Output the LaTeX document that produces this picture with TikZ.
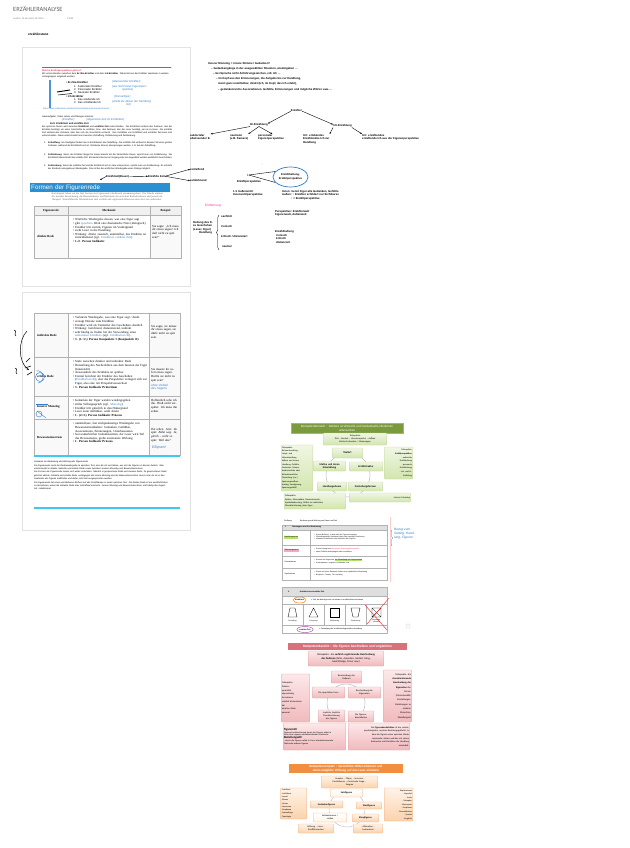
\documentclass[tikz,border=0pt]{standalone}
\usepackage{fontspec}
\setmainfont{Liberation Sans}
\newfontfamily\calfont{Carlito}
\newfontfamily\serfont{Liberation Serif}
\newfontfamily\symfont{DejaVu Sans}
\usetikzlibrary{arrows.meta,positioning,shapes,fit,calc,decorations.pathreplacing}

\definecolor{inkblue}{HTML}{2F7FD0}
\definecolor{banner}{HTML}{2B8FD1}
\definecolor{redline}{HTML}{E33D5A}
\definecolor{cyanline}{HTML}{3FC8F2}
\definecolor{pinktext}{HTML}{F0388A}
\definecolor{oliveT}{HTML}{7A9A3C}
\definecolor{greenL}{HTML}{F0F6E4}
\definecolor{greenD}{HTML}{D3E6AE}
\definecolor{greenB}{HTML}{C4D79B}
\definecolor{redT}{HTML}{D9717A}
\definecolor{pinkL}{HTML}{FCE8E9}
\definecolor{pinkD}{HTML}{F1B9BD}
\definecolor{pinkB}{HTML}{E59EA3}
\definecolor{orangeT}{HTML}{F28E3F}
\definecolor{orL}{HTML}{FFF3E8}
\definecolor{orD}{HTML}{FBD2AC}
\definecolor{orB}{HTML}{F2B37C}
\definecolor{hlgreen}{HTML}{B5E36A}
\definecolor{hlpink}{HTML}{F7A8C4}

\newcommand{\hlg}[1]{{\setlength{\fboxsep}{0.2pt}\colorbox{hlgreen}{#1}}}
\newenvironment{blist}{\begin{list}{\textbullet}{%
  \setlength{\leftmargin}{4pt}\setlength{\labelwidth}{2.6pt}%
  \setlength{\labelsep}{1.2pt}\setlength{\itemsep}{0pt}%
  \setlength{\parsep}{0pt}\setlength{\topsep}{0pt}\setlength{\partopsep}{0pt}}}%
  {\end{list}}

\begin{document}
\begin{tikzpicture}[
  x=1pt, y=-1pt,
  font=\fontsize{2.4}{3}\selectfont,
  txt/.style={anchor=north west, inner sep=0pt, align=left},
  hand/.style={txt, text=inkblue, font=\fontsize{2.8}{3.4}\selectfont\itshape},
  scrib/.style={txt, font=\fontsize{2.8}{3.5}\selectfont\bfseries},
  page/.style={draw=gray!22, fill=white},
  grid/.style={draw=gray!60, line width=0.3pt},
  tcell/.style={txt, font=\serfont\fontsize{3.1}{3.6}\selectfont},
  tree/.style={-{Stealth[length=2pt,width=1.6pt]}, line width=0.4pt},
  kbox/.style={align=center, inner sep=0.8pt, rounded corners=0.8pt, font=\calfont\fontsize{2.3}{2.8}\selectfont},
  gbox/.style={kbox, draw=greenB, line width=0.3pt, top color=greenL, bottom color=greenD},
  rbox/.style={kbox, draw=pinkB, line width=0.3pt, top color=pinkL, bottom color=pinkD},
  obox/.style={kbox, draw=orB, line width=0.3pt, top color=orL, bottom color=orD},
  ktitle/.style={kbox, text=white, rounded corners=0pt, font=\calfont\fontsize{3.2}{3.8}\selectfont}
]
\fill[white] (0,0) rectangle (629,848);
\useasboundingbox (0,0) rectangle (629,848);

% Page header
\node[txt, font=\calfont\fontsize{6.4}{7}\selectfont, text=gray!75!black] (title) at (13,6) {ERZÄHLERANALYSE};
\node[txt, font=\calfont\fontsize{2.6}{3}\selectfont, text=gray] (date) at (13,17.5) {martes, 16 de enero de 2024};
\node[txt, font=\calfont\fontsize{2.6}{3}\selectfont, text=gray] (time) at (67,17.5) {13:00};
\node[txt, font=\fontsize{3.2}{4}\selectfont\bfseries] (instanz) at (28,33) {erzählinstanz};

% Printed pages
\draw[page] (22,47) rectangle (190,286);
\draw[page] (22,292) rectangle (190,530);

% Page 1: Erzählperspektiven
\draw[redline, line width=1pt] (42,68) -- (171,68);
\node[txt, text=redline, font=\fontsize{2.3}{3}\selectfont\bfseries] (frage) at (42,70) {Welche Erzählperspektiven gibt es?};
\node[txt, text width=128pt, font=\fontsize{2.3}{2.9}\selectfont] (intro) at (42,73) {Wir unterscheiden zwischen dem \textbf{Er-/Sie-Erzähler} und dem \textbf{Ich-Erzähler}. Dabei können die Erzähler wiederum in weitere Untergruppen eingeteilt werden:};
\fill[inkblue!85] (49,80) rectangle (51,108);
\node[txt, font=\fontsize{2.7}{3.3}\selectfont] (ersie) at (66,81.5) {\textbullet\ \textbf{Er-/Sie-Erzähler}};
\node[txt, font=\fontsize{2.7}{3.3}\selectfont] (liste1) at (74,85) {1.\ \ Auktorialer Erzähler\\2.\ \ Personaler Erzähler\\3.\ \ Neutraler Erzähler};
\node[txt, font=\fontsize{2.7}{3.3}\selectfont] (icherz) at (66,95) {\textbullet\ \textbf{Ich-Erzähler}};
\node[txt, font=\fontsize{2.7}{3.3}\selectfont] (liste2) at (74,98.5) {1.\ \ Das erlebende Ich\\2.\ \ Das erzählende Ich};
\draw[line width=0.9pt] (57,92) -- (70,90);
\draw[line width=0.5pt] (58,95) -- (72,93.5);
\node[hand] (hn1) at (112,80) {(allwissender Erzähler)};
\node[hand] (hn2) at (112,85) {(aus Sicht einer Figurenper-\\\hspace*{10pt}spektive)};
\node[hand] (hn3) at (114,95.5) {(Romanfigur)};
\node[hand] (hn4) at (112,100) {(erlebt als Akteur der Handlung\\\hspace*{14pt}mit)};
\node[txt, text=inkblue, font=\fontsize{2.2}{2.8}\selectfont] (link) at (43,108) {https://www.studienkreis.de/deutsch/erzaehlperspektive-bestimmen/};
\node[txt, font=\fontsize{2.3}{2.9}\selectfont] (hausaufg) at (42,115.5) {Hausaufgabe: Video sehen und Übungen machen};
\node[hand] (hn5) at (62,118.5) {(Erzähler)\hspace{12pt}(allgemeine Zeit im Erzähltext)};
\node[txt, font=\fontsize{2.5}{3}\selectfont\bfseries] (zeit) at (50,122.5) {Zeit: Erzählzeit und erzählte Zeit};
\node[txt, text width=130pt, align=justify, font=\fontsize{2.25}{2.75}\selectfont] (zeittext) at (42,126) {Bei epischen Texten wird zwischen \textbf{Erzählzeit} und \textbf{erzählter Zeit} unterschieden. Die Erzählzeit umfasst den Zeitraum, den der Erzähler benötigt, um seine Geschichte zu erzählen, bzw. den Zeitraum, den der Leser benötigt, um sie zu lesen. Die erzählte Zeit umfasst den Zeitraum, über den sich die Geschichte erstreckt. Das Verhältnis von Erzählzeit und erzählter Zeit kann sich unterscheiden. Dabei unterscheidet man zwischen Zeitraffung, Zeitdehnung und Zeitdeckung.};
\node[txt, font=\fontsize{2.25}{2.75}\selectfont] (nr1) at (44,142) {1.};
\node[txt, text width=124pt, align=justify, font=\fontsize{2.25}{2.75}\selectfont] (raff) at (48,142) {\textbf{Zeitraffung}: Am häufigsten findet man in Erzähltexten die Zeitraffung. Die erzählte Zeit umfasst in diesem Fall einen großen Zeitraum, während die Erzählzeit kurz ist. Zeiträume können übersprungen werden, z.\,B. bei der Zeitraffung.};
\node[txt, font=\fontsize{2.25}{2.75}\selectfont] (nr2) at (44,153.5) {2.};
\node[txt, text width=124pt, align=justify, font=\fontsize{2.25}{2.75}\selectfont] (dehn) at (48,153.5) {\textbf{Zeitdehnung}: Wenn der Erzähler länger für etwas braucht als die tatsächliche Dauer, spricht man von Zeitdehnung. Die Erzählzeit überschreitet die erzählte Zeit. Ein bestimmter kurzer Vorgang oder ein Augenblick werden ausführlich beschrieben.};
\node[txt, font=\fontsize{2.25}{2.75}\selectfont] (nr3) at (44,164.5) {3.};
\node[txt, text width=124pt, align=justify, font=\fontsize{2.25}{2.75}\selectfont] (deck) at (48,164.5) {\textbf{Zeitdeckung}: Wenn die erzählte Zeit und die Erzählzeit sich in etwa entsprechen, spricht man von Zeitdeckung. Es entsteht der Eindruck naturgetreuer Wiedergabe. Dies ist bei der wörtlichen Wiedergabe eines Dialogs möglich.};

% Handwritten: Erzählzeit -> erzählte Zeit
\node[scrib] (ezdauer) at (106,175) {Erzählzeit(Dauer)};
\node[scrib] (ezerz) at (148,175) {Erzählte Zeit};
\node[scrib] (zraff) at (190,168) {zeitraffend};
\node[scrib] (zdehn) at (190,179.5) {zeitdehnend};
\coordinate (eztip) at (100,180);
\draw[tree] (ezdauer.west) -- (eztip);
\draw[tree] (ezdauer.east) -- (ezerz.west);
\draw[tree] (ezerz.east) -- (zraff.west);
\draw[tree] (ezerz.east) -- (zdehn.west);

% Formen der Figurenrede
\node[fill=banner, text=white, anchor=north west, text width=138pt, minimum height=8.5pt, inner sep=1pt, font=\fontsize{6.3}{7}\selectfont] (formen) at (30,183) {Formen der Figurenrede};
\node[txt, text width=128pt, align=center, text=gray!70!black, font=\serfont\fontsize{2.5}{2.9}\selectfont] (formtext) at (43,193) {Nachfolgend haben wir die fünf Formen der Figurenrede tabellarisch zusammengefasst. Die Tabelle umfasst die korrekte Bezeichnung, die Besonderheiten und Merkmale der einzelnen Redesituationen und jeweils ein Beispiel. Weiterführende Informationen sind verlinkt und ergänzende Hinweise unter der Liste aufbereitet.};

% Table page 1
\fill[gray!12] (34,206) rectangle (181,215);
\fill[gray!5] (34,215) rectangle (68,258);
\fill[gray!5] (150,215) rectangle (181,258);
\draw[grid] (34,206) rectangle (181,258);
\draw[grid] (68,206) -- (68,258) (150,206) -- (150,258) (34,215) -- (181,215);
\node[font=\serfont\fontsize{3}{3.5}\selectfont\bfseries] (hfig) at (51,210.5) {Figurenrede};
\node[font=\serfont\fontsize{3}{3.5}\selectfont\bfseries] (hmerk) at (109,210.5) {Merkmale};
\node[font=\serfont\fontsize{3}{3.5}\selectfont\bfseries] (hbsp) at (165.5,210.5) {Beispiel};
\node[tcell, anchor=west, font=\serfont\fontsize{3.1}{3.6}\selectfont\bfseries] (direkt) at (37,236) {direkte Rede};
\node[tcell, text width=76pt] (direktm) at (71,217) {\begin{blist}
\item Wörtliche Wiedergabe dessen, was eine Figur sagt
\item gibt \textcolor{inkblue}{epischem} Werk eine dramatische Note (dialogisch)
\item Erzähler tritt zurück, Figuren im Vordergrund
\item zieht Leser in die Handlung
\item Wirkung: direkt, szenisch, unmittelbar, das Erzählen ist zurückhaltend (vgl. \textcolor{inkblue}{Erzählzeit, erzählte Zeit})
\item \textbf{1./2. Person Indikativ}
\end{blist}};
\node[tcell, text width=27pt] (direktb) at (152,225) {Sie sagte: „Ich muss dir etwas sagen! Ich darf nicht zu spät sein!“};

% Table page 2
\fill[gray!5] (34,313) rectangle (68,455);
\fill[gray!5] (149,313) rectangle (180,455);
\draw[grid] (34,313) rectangle (180,455);
\draw[grid] (68,313) -- (68,455) (149,313) -- (149,455);
\draw[grid] (34,357) -- (180,357) (34,396) -- (180,396) (34,419) -- (180,419);
\node[tcell, anchor=west, font=\serfont\fontsize{3.1}{3.6}\selectfont\bfseries] (indirekt) at (37,335) {indirekte Rede};
\node[tcell, anchor=west, font=\serfont\fontsize{3.1}{3.6}\selectfont\bfseries] (erlebt) at (37,376) {erlebte Rede};
\node[tcell, anchor=west, font=\serfont\fontsize{3.1}{3.6}\selectfont\bfseries] (monolog) at (37,407) {Innerer Monolog};
\node[tcell, anchor=west, font=\serfont\fontsize{3.1}{3.6}\selectfont\bfseries] (strom) at (37,437) {Bewusstseinsstrom};
\node[tcell, text width=76pt] (indirektm) at (71,315) {\begin{blist}
\item Verkürzte Wiedergabe, was eine Figur sagt / denkt
\item erzeugt Distanz zum Erzählten
\item Erzähler wird als Vermittler des Geschehens deutlich
\item Wirkung: berichtend, distanzierend, indirekt
\item sehr häufig zu finden bei der Verwendung eines \textcolor{inkblue}{auktorialen Erzählers} (vgl. \textcolor{inkblue}{Erzählerbericht})
\item \textbf{3. (1.+2.) Person Konjunktiv I (Konjunktiv II)}
\end{blist}};
\node[tcell, text width=76pt] (erlebtm) at (71,359) {\begin{blist}
\item Stufe zwischen direkter und indirekter Rede
\item Darstellung des Nacherlebten aus dem Inneren der Figur (Innensicht)
\item Anwesenheit des Erzählers ist spürbar
\item Formal berichtet der Erzähler das Geschehen (\textcolor{inkblue}{Erzählerbericht}), aber die Perspektive verlagert sich zur Figur, also eine Art Perspektivenwechsel
\item \textbf{3. Person Indikativ Präteritum}
\end{blist}};
\node[tcell, text width=76pt] (monologm) at (71,398) {\begin{blist}
\item Gedanken der Figur werden wiedergegeben
\item stilles Selbstgespräch (vgl. \textcolor{inkblue}{Monolog})
\item Erzähler tritt gänzlich in den Hintergrund
\item Leser kann mitfühlen, wirkt direkt
\item \textbf{1. (2./3.) Person Indikativ Präsens}
\end{blist}};
\node[tcell, text width=76pt] (stromm) at (71,421) {\begin{blist}
\item unmittelbare, fast stichpunktartige Wiedergabe von Bewusstseinsinhalten: Gedanken, Gefühlen, Assoziationen, Erinnerungen, Unterbewusstes
\item fast unmerklicher Gedankenstrom, der Leser wird Teil des Bewusstseins, große emotionale Wirkung
\item \textbf{1. Person Indikativ Präsens}
\end{blist}};
\node[tcell, text width=27pt] (indirektb) at (151,325) {Sie sagte, sie müsse ihr etwas sagen, sie dürfe nicht zu spät sein.};
\node[tcell, text width=27pt] (erlebtb) at (151,368) {Sie musste ihr sofort etwas sagen. Durfte sie nicht zu spät sein?};
\node[hand, font=\fontsize{3}{3.6}\selectfont\itshape] (erlebth) at (151,384) {ohne Verben\\des Sagens};
\node[tcell, text width=27pt] (monologb) at (151,399) {Hoffentlich sehe ich ihn. Bloß nicht verspätet. Ich muss ihn sehen.};
\node[tcell, text width=27pt, font=\serfont\itshape\fontsize{3.1}{3.6}\selectfont] (stromb) at (151,428) {Ihn sehen. Jetzt. Zu spät. Bahn weg. Ja, gleich – nicht so spät. Weil das?};
\node[hand, font=\fontsize{3.6}{4}\selectfont\itshape] (stromh) at (152,446) {Ellipsen!};
% blue marks on the labels
\draw[inkblue, line width=0.4pt] (40,377) ellipse (4.5pt and 4.5pt);
\draw[inkblue, line width=0.4pt] (36,371) .. controls (44,369) and (46,382) .. (38,383);
\draw[inkblue, line width=0.4pt] (36,404) -- (48,404);
\draw[inkblue, line width=0.4pt] (39,414) ellipse (3pt and 3pt);
\draw[inkblue, line width=0.4pt] (37,411) -- (46,418);

\draw[cyanline, line width=1.3pt] (34,456) -- (180,456);
\node[txt, text width=134pt, font=\fontsize{2.2}{3.4}\selectfont\itshape] (hinweise) at (34,461) {Hinweise zur Bedeutung und Wirkung der Figurenrede\\
Die Figurenrede meint die Redewiedergabe im epischen Text, also die Art und Weise, wie sich die Figuren in diesem Äußern. Man unterscheidet in direkte, indirekte und erlebte Rede sowie zwischen innerem Monolog und Bewusstseinsstrom.\\
Die Formen der Figurenrede lassen sich weiter unterteilen. Nämlich in gesprochene Rede und stumme Rede. Zu gesprochener Rede gehören direkte, indirekte und erlebte Rede, wohingegen der innere Monolog und der Bewusstseinsstrom stumm sind, da sie in den Gedanken der Figuren stattfinden und daher nicht laut ausgesprochen werden.\\
Die Figurenrede hat einen unmittelbaren Einfluss auf das Erzähltempo in einem epischen Text. Die direkte Rede ist am ausführlichsten zu bezeichnen, wobei die indirekte Rede eher zeitraffend erscheint. Innerer Monolog und Bewusstseinsstrom sind häufig das Gegenteil: zeitdehnend.};
\draw[cyanline, line width=1.3pt] (34,508) -- (180,508);

% Handwritten arrow left of page 2
\coordinate (bogenA) at (27,331);
\coordinate (bogenB) at (29,370);
\draw[-{Stealth[length=2.5pt]}, line width=0.5pt] (bogenA) .. controls (18,340) and (18,362) .. (bogenB);
\draw[line width=0.5pt] (14,330) .. controls (18,331) and (13,334) .. (16,336);
\draw[line width=0.5pt] (15,368) .. controls (19,369) and (14,372) .. (17,374);
\draw[line width=0.6pt] (26,362) -- (30,358) (25,368) -- (31,366) (27,375) -- (32,372);

% Notes: innerer Monolog
\node[scrib] (nt1) at (208,62.5) {Innerer Monolog = innere Stimme / Gedanken?};
\node[scrib] (nt2) at (211,67.5) {– Gedankengänge in der ausgewählten Situation, wiedergeben …};
\node[scrib] (nt3) at (213,72.5) {– bei Sprache nicht Anführungszeichen, z.B. Ich …};
\node[scrib] (nt4) at (216,77.5) {– Im Kopf aus den Erinnerungen, die Aufgabe bis zur Handlung,};
\node[scrib] (nt5) at (218,82.5) {meist ganz unmittelbar, direkt (Ich, im Kopf, das Ich erlebt),};
\node[scrib] (nt6) at (218,88) {– gedankenreiche Assoziationen, Gefühle, Erinnerungen und mögliche Wörter usw.…};

% Tree: Erzähler
\node[scrib, anchor=center] (erz) at (296.5,110) {Erzähler};
\node[scrib, anchor=center] (er) at (259,125) {Er-Erzählung};
\node[scrib, anchor=center] (ich) at (342.5,126) {Ich-Erzählung};
\node[scrib] (auk) at (190,134) {auktorialer\\allwissender E.};
\node[scrib] (neu) at (230,134) {neutraler\\(z.B. Kamera)};
\node[scrib] (pers) at (258,134) {personaler\\Figurenperspektive};
\node[scrib] (icherl) at (303,134) {Ich: erlebendes\\Erzählendes Ich zur\\Handlung};
\node[scrib] (icherzl) at (362,134) {Ich: erzählendes\\erzählende Ich aus der Figurenperspektive};
\draw[tree] (erz.south west) -- (er.north east);
\draw[tree] (erz.south east) -- (ich.north west);
\draw[tree] (er.south west) -- (auk.north east);
\draw[tree] (er.south) -- (neu.north east);
\draw[tree] (er.south) -- (pers.70);
\draw[tree] (ich.south west) -- (icherl.north east);
\draw[tree] (ich.south east) -- (icherzl.north west);

% Erzählperspektive
\node[scrib, anchor=center, font=\fontsize{4}{4}\selectfont] (pmark) at (247.5,175) {↕};
\node[scrib, anchor=center] (perspl) at (249,182) {Erzählperspektive};
\node[draw=inkblue, line width=0.7pt, ellipse, minimum width=35pt, minimum height=20pt, inner sep=0pt, align=center, font=\fontsize{2.7}{3.6}\selectfont\bfseries] (haltung) at (290.5,177) {Erzählhaltung,\\Erzählperspektive};
\draw[line width=0.4pt] (pmark.east) -- (haltung.160);
\draw[line width=0.4pt] (pmark.east) -- (haltung.200);
\node[scrib] (aussen) at (233,190) {1:1 Außensicht\\Innensichtperspektive};
\node[scrib] (innen) at (282,190) {Innen: kennt Figur alle Gedanken, Gefühle\\Außen: ↑ Erzähler schildert nur Sichtbares\\\hspace*{9pt}↑ = Erzählperspektive};
\fill[inkblue!60] (262,164) circle (0.4pt);

% Entfernung
\node[scrib, text=pinktext, font=\fontsize{3.2}{3.8}\selectfont] (entf) at (205,204) {Entfernung};
\node[scrib] (haltE) at (193,221) {Haltung des E.\\zu Geschehen\\(Leser, Figur)\\\hspace*{6pt}Handlung};
\coordinate (braceB) at (219,250);
\coordinate (braceT) at (219,215);
\draw[decorate, decoration={brace, amplitude=2.5pt}, line width=0.4pt] (braceB) -- (braceT);
\node[scrib] (e1) at (221,215.5) {sachlich};
\node[scrib] (e2) at (221,225.5) {ironisch};
\node[scrib] (e3) at (221,235.5) {kritisch / distanziert};
\node[scrib] (e4) at (222,245.5) {neutral};
\node[scrib] (k1) at (275,210) {Perspektive: Erzählerwelt\\Figurenwelt, Außenwelt};
\node[scrib] (k2) at (275,230.5) {Erzählhaltung\\\hspace*{1pt}ironisch\\\hspace*{1pt}kritisch\\\hspace*{1pt}distanziert};

% Green diagram: Kompetenzbereich Merkmale
\draw[gray!55, line width=0.5pt] (348,475) circle (22pt);
\node[ktitle, fill=oliveT, draw=oliveT!70, text width=110pt, minimum height=10pt] (gtitle) at (347,428) {Kompetenzbereich : Weitere strukturelle und kontextuelle Merkmale\\untersuchen};
\node[gbox, text width=62pt, minimum height=12pt] (gteil) at (355,439) {Teilaspekte:\\Titel – Kontext – Literaturepoche – Aufbau\\Motive/Leitmotive / Stimmungen};
\node[gbox, align=left, text width=30pt, minimum height=46pt, font=\calfont\fontsize{2.2}{3.4}\selectfont] (gleft) at (297,468) {Teilaspekte:\\Rahmenhandlung,\\Haupt- und\\Nebenhandlung,\\äußere und innere\\Handlung, Gefühle,\\Gedanken, Träume,\\kontinuierliche oder\\diskontinuierliche\\Darstellung (u.a.),\\Spannungsaufbau:\\Anstieg, Verzögerung,\\Spannungsabfall};
\node[gbox, align=right, text width=27pt, minimum height=32pt, font=\calfont\fontsize{2.2}{3.6}\selectfont] (gright) at (398.5,463) {Teilaspekte:\\\textbf{Erzählperspektive:}\\- auktoriale\\Erzählhaltung\\- personale\\Erzählhaltung\\- Ich- und Er-\\Erzählung};
\node[gbox, text width=29pt, minimum height=10pt, font=\calfont\fontsize{2.8}{3.2}\selectfont\bfseries] (gtext) at (347.5,453) {Textart};
\node[gbox, text width=31pt, minimum height=10pt, font=\calfont\fontsize{2.6}{3}\selectfont\bfseries] (gmotiv) at (329.5,466) {Motive und deren\\Entwicklung};
\node[gbox, text width=32pt, minimum height=9pt, font=\calfont\fontsize{2.6}{3}\selectfont\bfseries] (gstrukt) at (366,466.5) {Erzählstruktur};
\node[gbox, text width=28pt, minimum height=9pt, font=\calfont\fontsize{2.6}{3}\selectfont\bfseries] (ghand) at (332,486.5) {Handlungsräume};
\node[gbox, text width=33pt, minimum height=9pt, font=\calfont\fontsize{2.6}{3}\selectfont\bfseries] (gdarst) at (365.5,486.5) {Darstellungsformen};
\node[gbox, align=left, text width=60pt, minimum height=16pt, font=\calfont\fontsize{2.3}{3.2}\selectfont] (gbl) at (315,501) {Teilaspekte:\\Sphäre, Atmosphäre, Raumelemente,\\Symbolbedeutung, Mittel zur indirekten\\Charakterisierung einer Figur};
\node[gbox, align=right, text width=60pt, minimum height=9pt] (gbr) at (380,497.5) {Innerer Monolog};

% Table: Raum und Zeit
\node[txt, font=\fontsize{1.9}{2.3}\selectfont] (stoffweg) at (284,520) {Stoffweg:};
\node[txt, font=\fontsize{1.9}{2.3}\selectfont] (stoffthema) at (300,520) {Bedeutung und Wirkung von Raum und Zeit};
\fill[gray!25] (282,525) rectangle (387,530);
\draw[grid] (282,525) rectangle (387,580);
\draw[grid] (282,530) -- (387,530) (282,545) -- (387,545) (282,556) -- (387,556) (282,568) -- (387,568) (310,530) -- (310,580);
\node[txt, anchor=west, font=\fontsize{1.9}{2.3}\selectfont\bfseries] (raumtyp) at (285,527.5) {I.\hspace{6pt}Raumtypen und ihre Bedeutung};
\node[fill=hlgreen, inner sep=0.3pt, anchor=west, font=\fontsize{1.9}{2.3}\selectfont] (hraum) at (284,537.5) {Handlungsraum};
\node[fill=hlpink, inner sep=0.3pt, anchor=west, font=\fontsize{1.9}{2.3}\selectfont] (sraum) at (284,550.5) {Stimmungsraum};
\node[inner sep=0.3pt, anchor=west, font=\fontsize{1.9}{2.3}\selectfont] (kraum) at (284,562) {Kontrastraum};
\node[inner sep=0.3pt, anchor=west, font=\fontsize{1.9}{2.3}\selectfont] (symraum) at (284,574) {Symbolraum};
\node[txt, text width=74pt, font=\fontsize{1.8}{2.4}\selectfont] (hraumt) at (312,532.5) {\begin{blist}
\item Raum (Befehle), in dem sich die Figuren bewegen
\item Überschaubarkeit, bestimmt durch das jeweilige Geschehen
\item konkrete Einzelheiten sind Verhalten der Figuren
\end{blist}};
\node[txt, text width=74pt, font=\fontsize{1.8}{2.4}\selectfont] (sraumt) at (312,547) {\begin{blist}
\item Raum erzeugt eine \textcolor{redline}{bestimmte Stimmung/Atmosphäre}
\item kann Gefühle widerspiegeln oder verstärken
\end{blist}};
\node[txt, text width=74pt, font=\fontsize{1.8}{2.4}\selectfont] (kraumt) at (312,558) {\begin{blist}
\item Räume als Gegensatz \hlg{zur Darstellung von Gegensätzen}
\item Kontrastpaare: eng/weit, hell/dunkel usw.
\end{blist}};
\node[txt, text width=74pt, font=\fontsize{1.8}{2.4}\selectfont] (symraumt) at (312,570) {\begin{blist}
\item Raum und seine Elemente haben eine symbolische Bedeutung
\item Beispiele: Fenster, Tür und Weg
\end{blist}};
\draw[pink!80, line width=0.3pt] (390,517) -- (390,582);
\coordinate (klammerB) at (391,546);
\coordinate (klammerT) at (391,530);
\draw[decorate, decoration={brace, amplitude=1.5pt}, inkblue, line width=0.35pt] (klammerT) -- (klammerB);
\node[hand, font=\fontsize{3.2}{4}\selectfont\itshape] (bezug) at (394,528) {Bezug zum\\Setting, Hand-\\lung, Figuren};

% Table: Erzählzeit und erzählte Zeit
\fill[gray!25] (282,587) rectangle (387,596);
\draw[grid] (282,587) rectangle (387,633);
\draw[grid] (282,596) -- (387,596) (282,604) -- (387,604) (282,625) -- (387,625);
\foreach \xk in {303,324,345,366} \draw[grid] (\xk,604) -- (\xk,625);
\node[txt, anchor=west, font=\fontsize{1.9}{2.3}\selectfont\bfseries] (ezkopf) at (288,591.5) {II.\hspace{10pt}Erzählzeit und erzählte Zeit};
\node[draw=orange, ellipse, line width=0.45pt, inner sep=0.2pt, minimum height=6pt, font=\fontsize{1.9}{2.3}\selectfont\bfseries] (ezeit) at (299.5,600) {Erzählzeit};
\node[txt, anchor=west, font=\fontsize{1.9}{2.3}\selectfont] (ezeitt) at (311,600) {= Zeit, die benötigt wird, um etwas zu erzählen/lesen/vorlesen};
\draw[line width=0.35pt] (288,617) -- (290,608) -- (295,608) -- (297,617) -- cycle;
\draw[line width=0.35pt] (309,617) -- (313.5,608) -- (318,617) -- cycle;
\draw[line width=0.35pt] (330,608) rectangle (339,617);
\draw[line width=0.35pt] (351,608) -- (360,608) -- (358,617) -- (353,617) -- cycle;
\draw[line width=0.35pt] (372,608) rectangle (381,617) (372,608) -- (381,617) (381,608) -- (372,617);
\draw[red!75, line width=0.5pt] (365,605) -- (387,630) (389,598) -- (367,624);
\node[font=\fontsize{1.7}{2}\selectfont] (zr) at (292.5,621) {Zeitraffung};
\node[font=\fontsize{1.7}{2}\selectfont] (zs) at (313.5,621) {Zeitsprung};
\node[font=\fontsize{1.7}{2}\selectfont] (zd) at (334.5,621) {Zeitdeckung};
\node[font=\fontsize{1.7}{2}\selectfont] (zdh) at (355.5,621) {Zeitdehnung};
\node[align=center, font=\fontsize{1.7}{2}\selectfont] (zst) at (376.5,621) {Handlungs-\\stillstand};
\node[draw=violet!70, ellipse, line width=0.45pt, inner sep=0.2pt, minimum height=6pt, font=\fontsize{1.9}{2.3}\selectfont\bfseries] (ertzeit) at (305,629.5) {erzählte Zeit};
\node[txt, anchor=west, font=\fontsize{1.9}{2.3}\selectfont] (ertzeitt) at (319,629.5) {= Zeitumfang der erzählten/dargestellten Handlung};
\node[draw=gray!40, fill=white, minimum size=4pt, inner sep=0pt, rounded corners=0.5pt, font=\symfont\fontsize{2}{2}\selectfont, text=gray] (icon) at (408,626) {↗};

% Red diagram: Figuren
\draw[gray!55, line width=0.5pt] (346,703) circle (19pt);
\node[ktitle, fill=redT, text width=117pt, minimum height=7pt, font=\calfont\fontsize{3.4}{4}\selectfont\bfseries] (rtitle) at (347.5,646.5) {Kompetenzbereich : Die Figuren beschreiben und vergleichen};
\node[rbox, text width=74pt, minimum height=15pt, font=\calfont\fontsize{2.6}{3.6}\selectfont] (rteil) at (346,658.5) {Teilaspekte: die \textbf{sachlich registrierende Beschreibung}\\\textbf{des Äußeren} (Alter, Aussehen, Gestalt, Gang,\\Gesichtszüge, Frisur usw.)};
\node[rbox, align=left, text width=27pt, minimum height=48pt, font=\calfont\fontsize{2.3}{3.7}\selectfont] (rleft) at (295.5,698) {Teilaspekte:\\Präzises\\sprachlich\\eigenständig\\formulieren\\sachlich distanzierter\\bei\\einzelne Zitate\\passend};
\node[rbox, align=right, text width=27pt, minimum height=52pt, font=\calfont\fontsize{2.4}{4.3}\selectfont] (rright) at (397.5,696) {Teilaspekte: die\\\textbf{charakterisierende}\\\textbf{Beschreibung der}\\\textbf{Eigenarten} der\\Person\\(Menschenbild,\\Einstellungen,\\Beziehungen zu\\anderen\\Menschen,\\Wandlungen)};
\node[rbox, text width=29pt, minimum height=12pt] (raeuss) at (346.5,677) {Beschreibung des\\Äußeren};
\node[rbox, text width=31pt, minimum height=11pt] (rform) at (328.5,692.5) {Die sprachliche Form};
\node[rbox, text width=31pt, minimum height=11pt] (reigen) at (364.5,692.5) {Beschreibung der\\Eigenarten};
\node[rbox, text width=25pt, minimum height=12pt] (rimpl) at (331.5,716) {Implizite, Explizite\\Charakterisierung\\der Figuren};
\node[rbox, text width=24pt, minimum height=11pt] (rkonst) at (361,716.5) {Die Figuren-\\konstellation};
\node[rbox, align=left, text width=61pt, minimum height=27pt, font=\calfont\fontsize{2.2}{2.9}\selectfont] (rbl) at (314.5,736.5) {{\fontsize{3}{3.5}\selectfont\textbf{Figurenstil}}\\Figurencharakterisierung durch die Figuren selbst in\\Form ihrer eigenen charakteristischen Merkmale\\{\fontsize{3}{3.5}\selectfont\textbf{Beziehungsstil}}\\…durch die Figuren selbst in Form charakterisierender\\Merkmale anderer Figuren};
\node[rbox, align=right, text width=60pt, minimum height=27pt, font=\calfont\fontsize{2.3}{3.6}\selectfont] (rbr) at (379,736.5) {Die \textbf{Figurenkonstellation} ist das soziale,\\psychologische, mentale Beziehungsgeflecht, in\\dem die Figuren eines epischen Werks\\zueinander stehen und das mit seinen\\Kontrasten und Parallelen die Handlung\\entwickelt.};

% Orange diagram: Sprachliche Mittel
\draw[gray!45, line width=0.5pt] (347,809) circle (18pt);
\node[ktitle, fill=orangeT, text width=112pt, minimum height=9pt, font=\calfont\fontsize{3.2}{3.8}\selectfont\bfseries] (otitle) at (346,768.5) {Kompetenzumpakt : Sprachliche Mittel erkennen und\\deren mögliche Wirkung auf den Leser erläutern};
\node[obox, text width=55pt, minimum height=12pt] (otop) at (349.5,782) {- Anapher, - Ellipse, - Inversion, -\\Parallelismus, - rhetorische Frage, -\\Zeugma};
\node[obox, top color=white, bottom color=orL, text width=31pt, minimum height=8pt, font=\calfont\fontsize{2.4}{2.8}\selectfont\bfseries] (osatz) at (346.5,793) {Satzfiguren};
\node[obox, align=left, text width=25pt, minimum height=31pt, font=\calfont\fontsize{2.1}{3.3}\selectfont] (oleft) at (293.5,803.5) {- Antithese\\- Antiklimax\\- Ausruf\\- Klimax\\- Litotes\\- Oxymoron\\- Paradoxon\\- Symbolfrage\\- Tautologie};
\node[obox, align=right, text width=27pt, minimum height=33pt, font=\calfont\fontsize{2.1}{3.5}\selectfont] (oright) at (398.5,804.5) {- Euphemismus\\- Hyperbel\\- Ironie\\- Metapher\\- Metonymie\\- Periphrase\\- Personifikation\\- Symbol\\- Vergleich};
\node[obox, text width=31pt, minimum height=7pt, font=\calfont\fontsize{2.4}{2.8}\selectfont\bfseries] (ogedank) at (326.5,804.5) {Gedankenfiguren};
\node[obox, text width=24pt, minimum height=7pt, font=\calfont\fontsize{2.4}{2.8}\selectfont\bfseries] (owort) at (369,805.5) {Wortfiguren};
\node[obox, top color=white, bottom color=orL, text width=32pt, minimum height=9pt] (osatzbau) at (330,817.5) {Satzbauformen /\\-stellen};
\node[obox, text width=25pt, minimum height=8pt, font=\calfont\fontsize{2.4}{2.8}\selectfont\bfseries] (oklang) at (365.5,818) {Klangfiguren};
\node[obox, text width=34pt, minimum height=9pt] (obl) at (316,828.5) {Wirkung – Leser –\\Konfliktursachen};
\node[obox, text width=28pt, minimum height=9pt] (obr) at (368,828.5) {- Alliteration, -\\Lautmalerei};

\end{tikzpicture}
\end{document}
